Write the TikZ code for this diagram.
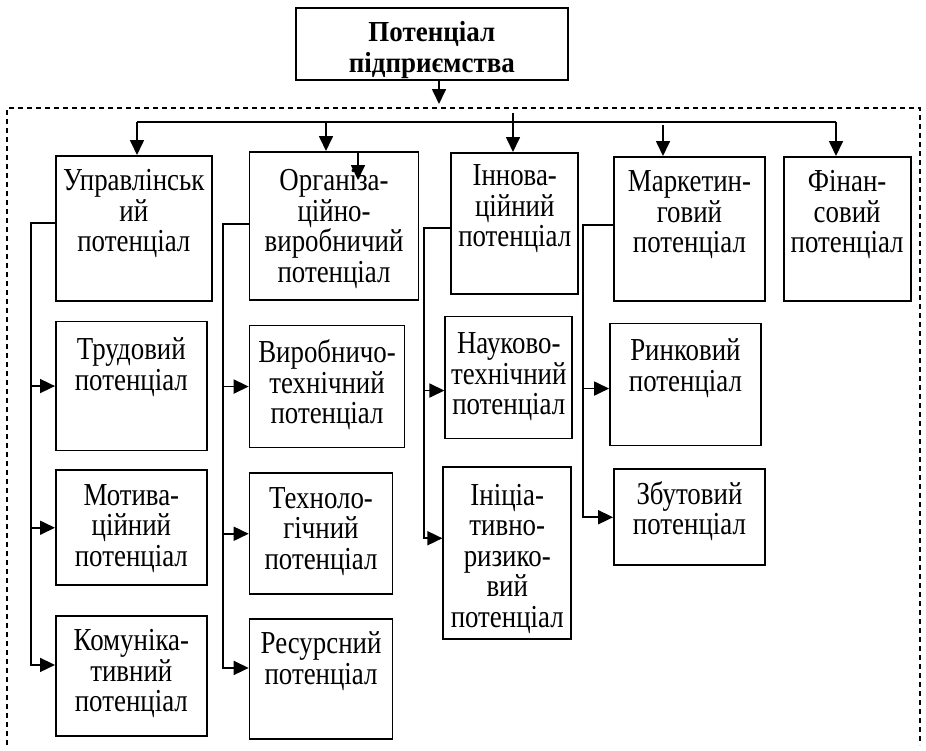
\documentclass[tikz,border=0pt]{standalone}
\usepackage{fontspec}
\setmainfont{Liberation Serif}
\newfontfamily\boxfont[FakeStretch=0.84]{Liberation Serif}
\newfontfamily\titlefont[FakeStretch=0.93]{Liberation Serif}
\usetikzlibrary{positioning}
\usetikzlibrary{arrows.meta}

\begin{document}
\begin{tikzpicture}[x=1pt,y=-1pt]
\tikzset{box/.style 2 args={draw,line width=1.7pt,inner sep=0pt,align=center,
		text width=#1pt,text height=35pt,text depth=#2pt-35pt,
		font=\boxfont\fontsize{32}{30.5}\selectfont},
	conn/.style={line width=1.7pt},
	frame/.style={line width=1.4pt,dash pattern=on 5pt off 4pt},
	>={Triangle[length=15pt,width=14pt]}}

\useasboundingbox (0,0) rectangle (926,750);

\node[box={272}{72},text height=34pt,text depth=38pt,font=\titlefont\bfseries\fontsize{29}{30.5}\selectfont,anchor=north west] (pot) at (295,7) {Потенціал\\підприємства};

\node[box={156}{145},anchor=north west] (upr) at (55,155) {Управлінськ\\ий\\потенціал};

\node[box={169}{144},text height=39pt] (org) [right=36pt of upr.north east,anchor=north west,yshift=4pt] {Організа-\\ційно-\\виробничий\\потенціал};

\node[box={127}{143},text height=33pt] (inn) [right=31pt of org.north east,anchor=north west,yshift=-1pt] {Іннова-\\ційний\\потенціал};

\node[box={151}{144}] (mar) [right=34pt of inn.north east,anchor=north west,yshift=-4pt] {Маркетин-\\говий\\потенціал};

\node[box={127}{144}] (fin) [right=17pt of mar.north east,anchor=north west] {Фінан-\\совий\\потенціал};

\node[box={151}{126},text height=38pt] (trud) [below=19pt of upr.south west,anchor=north west] {Трудовий\\потенціал};

\node[box={151}{115}] (mot) [below=18pt of trud.south west,anchor=north west] {Мотива-\\ційний\\потенціал};

\node[box={151}{120}] (kom) [below=29pt of mot.south west,anchor=north west] {Комуніка-\\тивний\\потенціал};

\node[box={155}{120},text height=37pt] (vyr) [below=24pt of org.south west,anchor=north west] {Виробничо-\\технічний\\потенціал};

\node[box={143}{121}] (teh) [below=24pt of vyr.south west,anchor=north west] {Техноло-\\гічний\\потенціал};

\node[box={143}{120}] (res) [below=23pt of teh.south west,anchor=north west] {Ресурсний\\потенціал};

\node[box={127}{120},text height=37pt] (nauk) [below=21pt of inn.south west,anchor=north west,xshift=-6pt] {Науково-\\технічний\\потенціал};

\node[box={128}{169},text height=38pt] (inic) [below=27pt of nauk.south west,anchor=north west,xshift=-2pt] {Ініціа-\\тивно-\\ризико-\\вий\\потенціал};

\node[box={151}{120},text height=37pt] (rynk) [below=21pt of mar.south west,anchor=north west,xshift=-4pt] {Ринковий\\потенціал};

\node[box={151}{96}] (zbut) [below=22pt of rynk.south west,anchor=north west,xshift=4pt] {Збутовий\\потенціал};

\draw[frame] (7,745) -- (7,108) -- (920,108) -- (920,745);

\coordinate (t0) at (439,104);
\draw[conn,->] (t0 |- pot.south) -- (t0);

\coordinate (b1) at (137,122);
\coordinate (b2) at (326,122);
\coordinate (b3) at (513,113);
\coordinate (b4) at (663,125);
\coordinate (b5) at (836,122);
\draw[conn] (b1) -- (b5);
\draw[conn,->] (b1) -- (b1 |- upr.north);
\draw[conn,->] (b2) -- (b2 |- org.north);
\draw[conn,->] (b3) -- (b3 |- inn.north);
\draw[conn,->] (b4) -- (b4 |- mar.north);
\draw[conn,->] (b5) -- (b5 |- fin.north);

\coordinate (s1) at (358,180);
\draw[conn,->] (s1 |- org.north) -- (s1);

\coordinate (l1) at (31,223);
\coordinate (pk) at ([yshift=11pt]kom.west);
\draw[conn,->] (upr.west |- l1) -- (l1) |- (pk);
\draw[conn,->] (l1 |- trud.west) -- (trud.west);
\draw[conn,->] (l1 |- mot.west) -- (mot.west);

\coordinate (l2) at (223,224);
\coordinate (pr) at ([yshift=11pt]res.west);
\draw[conn,->] (org.west |- l2) -- (l2) |- (pr);
\draw[conn,->] (l2 |- vyr.west) -- (vyr.west);
\draw[conn,->] (l2 |- teh.west) -- (teh.west);

\coordinate (l3) at (424,228);
\coordinate (pi) at ([yshift=15pt]inic.west);
\coordinate (pn) at ([yshift=-13pt]nauk.west);
\draw[conn,->] (inn.west |- l3) -- (l3) |- (pi);
\draw[conn,->] (l3 |- pn) -- (pn);

\coordinate (l4) at (583,225);
\coordinate (py) at ([yshift=-4pt]rynk.west);
\draw[conn,->] (mar.west |- l4) -- (l4) |- (zbut.west);
\draw[conn,->] (l4 |- py) -- (py);
\end{tikzpicture}
\end{document}
